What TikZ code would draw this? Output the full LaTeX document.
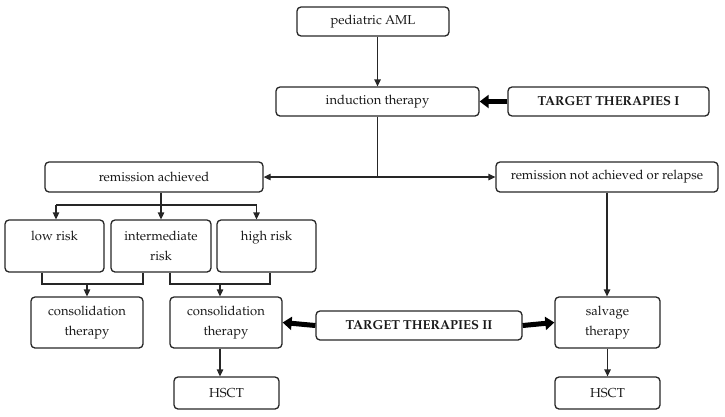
\documentclass[tikz,border=0pt]{standalone}
\usepackage[T1]{fontenc}
\usepackage{mathpazo}
\usetikzlibrary{arrows.meta,calc}
\definecolor{ln}{HTML}{262626}
\tikzset{
  box/.style={draw=ln, line width=1.3pt, rounded corners=4pt, align=center, inner sep=0pt,
    font=\fontsize{13}{20}\selectfont, text=black!90},
  bbox/.style={box, font=\fontsize{13}{20}\selectfont\bfseries},
  conn/.style={draw=ln, line width=1.3pt},
  arr/.style={conn, -{Triangle[length=7pt,width=6.5pt]}},
  fat/.style={draw=black, line width=5pt, -{Triangle[length=9pt,width=13pt]}},
}
\begin{document}
\begin{tikzpicture}[x=1pt,y=-1pt]
\useasboundingbox (0,0) rectangle (725,416);
% nodes
\node[box, minimum width=152pt, minimum height=29pt] (ped) at (373,21.5) {pediatric AML};
\node[box, minimum width=203pt, minimum height=29pt] (ind) at (377.5,101.5) {induction therapy};
\node[bbox, minimum width=201pt, minimum height=29pt] (tt1) at (608.5,101.5) {TARGET THERAPIES I};
\node[box, minimum width=218pt, minimum height=30pt] (ra) at (154,177) {remission achieved};
\node[box, minimum width=222pt, minimum height=30pt] (rn) at (607,177) {remission not achieved or relapse};
\node[box, minimum width=99pt, minimum height=52pt] (low) at (54.5,246) {low risk\\\mbox{}};
\node[box, minimum width=100pt, minimum height=52pt] (int) at (161,246) {intermediate\\risk};
\node[box, minimum width=99pt, minimum height=52pt] (high) at (266.5,246) {high risk\\\mbox{}};
\node[box, minimum width=112pt, minimum height=51pt] (cl) at (87,322.5) {consolidation\\therapy};
\node[box, minimum width=112pt, minimum height=51pt] (cm) at (226,322.5) {consolidation\\therapy};
\node[bbox, minimum width=206pt, minimum height=29pt] (tt2) at (419,325.5) {TARGET THERAPIES II};
\node[box, minimum width=105pt, minimum height=51pt] (sal) at (607.5,322.5) {salvage\\therapy};
\node[box, minimum width=105pt, minimum height=32pt] (h1) at (226.5,393) {HSCT};
\node[box, minimum width=105pt, minimum height=32pt] (h2) at (607.5,393) {HSCT};
% helper coordinates
\coordinate (rowA) at (0,205);
\coordinate (rowB) at (0,284);
\coordinate (lowN) at ($(low.north)+(1.5,0)$);
\coordinate (highN) at ($(high.north)+(-10,0)$);
\coordinate (lowS) at ($(low.south)+(-12.5,0)$);
\coordinate (intSa) at ($(int.south)+(-18,0)$);
\coordinate (intSb) at ($(int.south)+(9,0)$);
\coordinate (highS) at ($(high.south)+(3.5,0)$);
\coordinate (cmN) at ($(cm.north)+(-6,0)$);
\coordinate (cmS) at ($(cm.south)+(-6,0)$);
% connectors
\draw[arr] (ind.north |- ped.south) -- (ind.north);
\draw[fat] (tt1.west) -- (ind.east);
\draw[arr] (ind.south) |- (ra.east);
\draw[arr] (ind.south) |- (rn.west);
\draw[arr] (int.north |- ra.south) -- (int.north);
\draw[conn] (lowN |- rowA) -- (highN |- rowA);
\draw[arr] (lowN |- rowA) -- (lowN);
\draw[arr] (highN |- rowA) -- (highN);
\draw[conn] (lowS) -- (lowS |- rowB) -| (intSa);
\draw[arr] (cl.north |- rowB) -- (cl.north);
\draw[conn] (intSb) -- (intSb |- rowB) -| (highS);
\draw[arr] (cmN |- rowB) -- (cmN);
\draw[arr] (cmS) -- (cmS |- h1.north);
\draw[arr] (rn.south) -- (rn.south |- sal.north);
\draw[arr] (sal.south) -- (h2.north);
\draw[fat] (tt2.west) -- (cm.east);
\draw[fat] (tt2.east) -- (sal.west);
\end{tikzpicture}
\end{document}
